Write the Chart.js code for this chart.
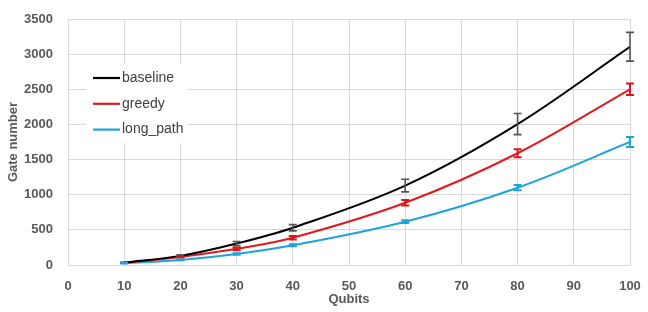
<!DOCTYPE html>
<html>
<head>
<meta charset="utf-8">
<script src="https://cdn.jsdelivr.net/npm/chart.js@4"></script>
<style>
html,body{margin:0;padding:0;background:#fff;}
canvas{display:block;}
</style>
</head>
<body>
<canvas id="c" width="648" height="312"></canvas>
<script>
const qubits = [10, 20, 30, 40, 60, 80, 100];
const seriesNames = ['baseline', 'greedy', 'long_path'];
const baseline = [35, 130, 305, 530, 1130, 2005, 3105];
const greedy = [30, 115, 230, 388, 886, 1590, 2500];
const longPath = [25, 72, 157, 280, 616, 1100, 1750];
const baselineErr = [5, 15, 30, 45, 90, 150, 205];
const greedyErr = [3, 10, 20, 25, 40, 57, 82];
const longPathErr = [2, 5, 10, 14, 20, 38, 70];
const xTicks = [0, 10, 20, 30, 40, 50, 60, 70, 80, 90, 100];
const yTicks = [0, 500, 1000, 1500, 2000, 2500, 3000, 3500];

const colors = ['#000000', '#e01b1f', '#1ea3da'];
const errColors = ['#555555', '#d8171c', '#1ea3da'];
const allValues = [baseline, greedy, longPath];
const allErr = [baselineErr, greedyErr, longPathErr];

const datasets = seriesNames.map((name, i) => ({
  label: name,
  data: qubits.map((q, j) => ({x: q, y: allValues[i][j]})),
  errors: allErr[i],
  borderColor: colors[i],
  errColor: errColors[i],
  backgroundColor: colors[i],
  borderWidth: 2,
  pointRadius: 0,
  tension: 0.35,
  fill: false
}));

const errorBars = {
  id: 'errorBars',
  afterDatasetsDraw(chart) {
    const ctx = chart.ctx;
    const xs = chart.scales.x, ys = chart.scales.y;
    chart.data.datasets.forEach((ds, i) => {
      ctx.save();
      ctx.strokeStyle = ds.errColor;
      ctx.lineWidth = i === 0 ? 1.6 : 2;
      ds.data.forEach((p, j) => {
        const e = ds.errors[j];
        const px = xs.getPixelForValue(p.x);
        const top = ys.getPixelForValue(p.y + e);
        const bot = ys.getPixelForValue(p.y - e);
        const cw = 4;
        ctx.beginPath();
        ctx.moveTo(px, top); ctx.lineTo(px, bot);
        ctx.moveTo(px - cw, top); ctx.lineTo(px + cw, top);
        ctx.moveTo(px - cw, bot); ctx.lineTo(px + cw, bot);
        ctx.stroke();
      });
      ctx.restore();
    });
  }
};

const innerLegend = {
  id: 'innerLegend',
  afterDraw(chart) {
    const ctx = chart.ctx;
    ctx.save();
    ctx.fillStyle = '#ffffff';
    ctx.fillRect(86, 64, 102, 79);
    ctx.font = '14px "Liberation Sans", Arial, sans-serif';
    ctx.textBaseline = 'middle';
    chart.data.datasets.forEach((ds, i) => {
      const y = 78 + i * 25.8;
      ctx.strokeStyle = ds.borderColor;
      ctx.lineWidth = 2.2;
      ctx.beginPath();
      ctx.moveTo(93, y); ctx.lineTo(120, y);
      ctx.stroke();
      ctx.fillStyle = '#404040';
      ctx.fillText(ds.label, 122, y);
    });
    ctx.restore();
  }
};

const tickFont = {family: '"Liberation Sans", Arial, sans-serif', size: 13, weight: 'bold'};

new Chart(document.getElementById('c'), {
  type: 'line',
  data: {datasets},
  options: {
    responsive: false,
    animation: false,
    layout: {padding: {left: 0, right: 18, top: 19, bottom: 0}},
    plugins: {legend: {display: false}, tooltip: {enabled: false}},
    scales: {
      x: {
        type: 'linear',
        min: 0, max: 100,
        afterBuildTicks(s) { s.ticks = xTicks.map(v => ({value: v})); },
        afterFit(s) { s.height = 47; s.paddingLeft = 0; s.paddingRight = 0; },
        grid: {color: '#d9d9d9', lineWidth: 1, drawTicks: false},
        border: {display: false},
        ticks: {font: tickFont, color: '#595959', padding: 14, maxRotation: 0, callback: v => String(v)},
        title: {display: true, text: 'Qubits', font: tickFont, color: '#595959', padding: {top: 0, bottom: 5}}
      },
      y: {
        min: 0, max: 3500,
        afterBuildTicks(s) { s.ticks = yTicks.map(v => ({value: v})); },
        afterFit(s) { s.width = 68; s.paddingTop = 0; s.paddingBottom = 0; },
        grid: {color: '#d9d9d9', lineWidth: 1, drawTicks: false},
        border: {display: false},
        ticks: {font: tickFont, color: '#595959', padding: 15, callback: v => String(v)},
        title: {display: true, text: 'Gate number', font: tickFont, color: '#595959', padding: {top: 6, bottom: 0}}
      }
    }
  },
  plugins: [errorBars, innerLegend]
});
</script>
</body>
</html>
